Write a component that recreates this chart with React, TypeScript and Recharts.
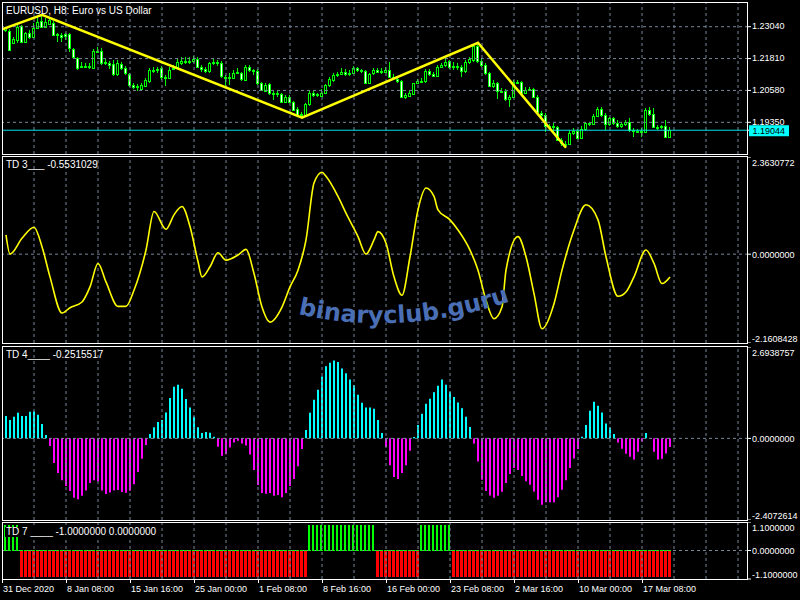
import { ComposedChart, Bar, Line, XAxis, YAxis, ReferenceLine, Cell } from "recharts";

const FONT = "'Liberation Sans', Arial, Helvetica, sans-serif";
const GRID = "#778899";
const LIME = "#00ff00";

// EURUSD H8 candles, bar 0 = 31 Dec 2020
const open = [
  1.2291, 1.2287, 1.2243, 1.2253, 1.2307, 1.2246, 1.2281, 1.2266, 1.2298, 1.2327,
  1.2304, 1.2314, 1.2320, 1.2272, 1.2272, 1.2275, 1.2276, 1.2217, 1.2182, 1.2150,
  1.2153, 1.2153, 1.2144, 1.2212, 1.2212, 1.2163, 1.2165, 1.2160, 1.2122, 1.2160,
  1.2146, 1.2122, 1.2079, 1.2075, 1.2063, 1.2075, 1.2096, 1.2137, 1.2135, 1.2144,
  1.2109, 1.2105, 1.2140, 1.2150, 1.2163, 1.2173, 1.2171, 1.2173, 1.2181, 1.2147,
  1.2140, 1.2132, 1.2163, 1.2167, 1.2165, 1.2111, 1.2109, 1.2106, 1.2127, 1.2124,
  1.2099, 1.2147, 1.2135, 1.2133, 1.2086, 1.2057, 1.2082, 1.2047, 1.2045, 1.2043,
  1.2015, 1.2034, 1.2015, 1.1986, 1.1964, 1.1964, 1.2005, 1.2050, 1.2041, 1.2037,
  1.2050, 1.2078, 1.2099, 1.2118, 1.2122, 1.2129, 1.2122, 1.2127, 1.2144, 1.2137,
  1.2133, 1.2088, 1.2124, 1.2137, 1.2131, 1.2131, 1.2137, 1.2109, 1.2104, 1.2095,
  1.2034, 1.2038, 1.2045, 1.2086, 1.2095, 1.2093, 1.2133, 1.2122, 1.2114, 1.2150,
  1.2155, 1.2171, 1.2150, 1.2153, 1.2147, 1.2132, 1.2168, 1.2176, 1.2230, 1.2173,
  1.2156, 1.2124, 1.2075, 1.2086, 1.2054, 1.2056, 1.2024, 1.2032, 1.2090, 1.2090,
  1.2050, 1.2060, 1.2063, 1.2034, 1.1970, 1.1964, 1.1919, 1.1919, 1.1915, 1.1867,
  1.1852, 1.1851, 1.1893, 1.1902, 1.1874, 1.1908, 1.1929, 1.1929, 1.1960, 1.1988,
  1.1964, 1.1929, 1.1950, 1.1932, 1.1921, 1.1929, 1.1937, 1.1906, 1.1902, 1.1901,
  1.1899, 1.1983, 1.1968, 1.1916, 1.1915, 1.1919, 1.1880,
];
const high = [
  1.2304, 1.2294, 1.2263, 1.2311, 1.2311, 1.2285, 1.2291, 1.2317, 1.2343, 1.2350,
  1.2336, 1.2336, 1.2327, 1.2281, 1.2278, 1.2281, 1.2281, 1.2221, 1.2186, 1.2169,
  1.2163, 1.2165, 1.2217, 1.2225, 1.2221, 1.2178, 1.2173, 1.2176, 1.2176, 1.2169,
  1.2153, 1.2127, 1.2086, 1.2083, 1.2086, 1.2105, 1.2144, 1.2150, 1.2150, 1.2153,
  1.2118, 1.2150, 1.2156, 1.2178, 1.2189, 1.2189, 1.2186, 1.2191, 1.2189, 1.2155,
  1.2150, 1.2169, 1.2178, 1.2176, 1.2173, 1.2118, 1.2124, 1.2137, 1.2144, 1.2131,
  1.2156, 1.2156, 1.2140, 1.2140, 1.2092, 1.2086, 1.2086, 1.2054, 1.2054, 1.2047,
  1.2041, 1.2039, 1.2019, 1.1993, 1.1973, 1.2011, 1.2054, 1.2057, 1.2050, 1.2063,
  1.2083, 1.2109, 1.2124, 1.2131, 1.2144, 1.2140, 1.2135, 1.2153, 1.2150, 1.2140,
  1.2137, 1.2127, 1.2144, 1.2146, 1.2144, 1.2150, 1.2169, 1.2122, 1.2114, 1.2099,
  1.2047, 1.2054, 1.2088, 1.2101, 1.2105, 1.2140, 1.2140, 1.2131, 1.2156, 1.2165,
  1.2182, 1.2176, 1.2169, 1.2163, 1.2156, 1.2176, 1.2186, 1.2234, 1.2242, 1.2182,
  1.2163, 1.2131, 1.2099, 1.2092, 1.2066, 1.2063, 1.2041, 1.2099, 1.2099, 1.2095,
  1.2070, 1.2070, 1.2066, 1.2041, 1.1977, 1.1970, 1.1929, 1.1934, 1.1919, 1.1874,
  1.1861, 1.1906, 1.1912, 1.1908, 1.1919, 1.1938, 1.1938, 1.1968, 1.1993, 1.1993,
  1.1970, 1.1957, 1.1955, 1.1942, 1.1938, 1.1942, 1.1951, 1.1912, 1.1908, 1.1912,
  1.1989, 1.1993, 1.1989, 1.1925, 1.1925, 1.1942, 1.1916,
];
const low = [
  1.2285, 1.2212, 1.2236, 1.2243, 1.2243, 1.2240, 1.2255, 1.2259, 1.2294, 1.2298,
  1.2298, 1.2311, 1.2268, 1.2246, 1.2246, 1.2253, 1.2208, 1.2178, 1.2137, 1.2144,
  1.2144, 1.2140, 1.2140, 1.2201, 1.2156, 1.2155, 1.2140, 1.2114, 1.2114, 1.2135,
  1.2118, 1.2070, 1.2063, 1.2054, 1.2057, 1.2070, 1.2088, 1.2127, 1.2127, 1.2099,
  1.2075, 1.2101, 1.2135, 1.2144, 1.2156, 1.2160, 1.2160, 1.2165, 1.2144, 1.2131,
  1.2127, 1.2127, 1.2156, 1.2153, 1.2105, 1.2070, 1.2079, 1.2101, 1.2122, 1.2096,
  1.2096, 1.2131, 1.2118, 1.2079, 1.2054, 1.2054, 1.2041, 1.2021, 1.2034, 1.2011,
  1.2011, 1.2011, 1.1977, 1.1960, 1.1953, 1.1957, 1.1998, 1.2034, 1.2034, 1.2032,
  1.2045, 1.2070, 1.2092, 1.2111, 1.2118, 1.2114, 1.2114, 1.2122, 1.2131, 1.2127,
  1.2086, 1.2086, 1.2118, 1.2124, 1.2122, 1.2124, 1.2105, 1.2099, 1.2088, 1.2032,
  1.2024, 1.2032, 1.2041, 1.2083, 1.2086, 1.2088, 1.2114, 1.2109, 1.2111, 1.2144,
  1.2150, 1.2140, 1.2137, 1.2137, 1.2109, 1.2127, 1.2160, 1.2169, 1.2165, 1.2150,
  1.2118, 1.2070, 1.2066, 1.2024, 1.2047, 1.2019, 1.1993, 1.2028, 1.2083, 1.2045,
  1.2045, 1.2054, 1.2028, 1.1964, 1.1955, 1.1899, 1.1906, 1.1899, 1.1861, 1.1844,
  1.1837, 1.1848, 1.1887, 1.1870, 1.1870, 1.1903, 1.1919, 1.1925, 1.1955, 1.1957,
  1.1906, 1.1921, 1.1925, 1.1912, 1.1912, 1.1921, 1.1899, 1.1880, 1.1893, 1.1880,
  1.1896, 1.1960, 1.1912, 1.1906, 1.1908, 1.1878, 1.1874,
];
const close = [
  1.2298, 1.2214, 1.2257, 1.2304, 1.2246, 1.2281, 1.2266, 1.2298, 1.2323, 1.2302,
  1.2323, 1.2330, 1.2272, 1.2276, 1.2266, 1.2268, 1.2221, 1.2186, 1.2146, 1.2153,
  1.2154, 1.2150, 1.2212, 1.2208, 1.2163, 1.2168, 1.2156, 1.2122, 1.2163, 1.2144,
  1.2124, 1.2079, 1.2073, 1.2070, 1.2078, 1.2099, 1.2137, 1.2135, 1.2140, 1.2109,
  1.2106, 1.2137, 1.2145, 1.2168, 1.2173, 1.2169, 1.2173, 1.2181, 1.2150, 1.2140,
  1.2132, 1.2163, 1.2167, 1.2165, 1.2114, 1.2109, 1.2111, 1.2127, 1.2131, 1.2101,
  1.2147, 1.2137, 1.2132, 1.2086, 1.2060, 1.2079, 1.2047, 1.2045, 1.2047, 1.2015,
  1.2034, 1.2015, 1.1983, 1.1964, 1.1968, 1.2006, 1.2050, 1.2039, 1.2043, 1.2050,
  1.2078, 1.2101, 1.2118, 1.2122, 1.2129, 1.2122, 1.2127, 1.2144, 1.2137, 1.2133,
  1.2088, 1.2122, 1.2137, 1.2131, 1.2132, 1.2137, 1.2109, 1.2106, 1.2095, 1.2034,
  1.2039, 1.2047, 1.2086, 1.2095, 1.2096, 1.2133, 1.2122, 1.2114, 1.2150, 1.2155,
  1.2169, 1.2150, 1.2153, 1.2147, 1.2132, 1.2168, 1.2178, 1.2230, 1.2173, 1.2156,
  1.2124, 1.2075, 1.2086, 1.2054, 1.2057, 1.2024, 1.2032, 1.2090, 1.2092, 1.2050,
  1.2060, 1.2063, 1.2034, 1.1970, 1.1964, 1.1919, 1.1921, 1.1915, 1.1867, 1.1854,
  1.1848, 1.1893, 1.1902, 1.1874, 1.1911, 1.1932, 1.1932, 1.1960, 1.1988, 1.1964,
  1.1929, 1.1950, 1.1932, 1.1921, 1.1929, 1.1937, 1.1906, 1.1902, 1.1899, 1.1903,
  1.1983, 1.1968, 1.1916, 1.1915, 1.1919, 1.1880, 1.19044,
];

// zigzag vertices (bar index, price)
const zzBar = [-1, 9, 74, 118, 140];
const zzPrice = [1.2294, 1.235, 1.1953, 1.2242, 1.1837];
const lastPrice = 1.19044;
const priceTicks = [1.1935, 1.2058, 1.2181, 1.2304];
const priceMin = 1.18127;
const priceMax = 1.23955;

// TD 3 line, read at its turning points
const td3Bar = [
  0, 1, 4, 7, 9, 11, 14, 16, 19, 21, 23, 25, 28, 30, 32, 35, 37, 40, 42, 44,
  46, 48, 49, 51, 53, 55, 58, 60, 62, 64, 66, 69, 71, 73, 75, 77, 79, 80, 83, 85,
  88, 90, 92, 93, 95, 97, 99, 101, 103, 105, 107, 108, 111, 113, 116, 118, 120, 122, 124, 125,
  128, 130, 132, 134, 137, 139, 142, 145, 148, 150, 153, 155, 157, 160, 162, 164, 166,
];
const td3Val = [
  0.467, 0.002, 0.385, 0.654, 0.181, -0.552, -1.432, -1.302, -1.163, -0.797,
  -0.226, -0.674, -1.269, -1.269, -0.878, 0.1, 1.037, 0.605, 0.956, 1.16,
  0.671, -0.18, -0.552, -0.307, 0.035, -0.145, -0.022, 0.116, -0.471, -1.286,
  -1.652, -1.286, -0.797, -0.389, 0.345, 1.73, 1.991, 1.893, 1.404, 0.997,
  0.426, 0.002, 0.345, 0.548, 0.263, -0.552, -1.0, -0.063, 1.078, 1.608,
  1.404, 1.078, 0.834, 0.589, 0.1, -0.389, -1.123, -1.571, -1.286, -0.389,
  0.426, -0.063, -0.96, -1.815, -1.204, -0.389, 0.589, 1.2, 0.834, -0.063,
  -1.025, -0.919, -0.552, 0.1, -0.226, -0.715, -0.5531029,
];
const td3Min = -2.1608428;
const td3Max = 2.3630772;

// TD 4 histogram
const td4 = [
  0.663, 0.545, 0.634, 0.752, 0.663, 0.663, 0.782, 0.792, 0.693, 0.426,
  0.099, -0.228, -0.723, -1.02, -1.238, -1.406, -1.554, -1.752, -1.792, -1.693,
  -1.535, -1.317, -1.238, -1.267, -1.535, -1.644, -1.594, -1.535, -1.525, -1.584,
  -1.604, -1.545, -1.356, -0.99, -0.604, -0.198, 0.129, 0.327, 0.485, 0.545,
  0.762, 1.188, 1.525, 1.584, 1.465, 1.158, 0.911, 0.634, 0.327, 0.158,
  0.188, 0.168, 0.05, -0.248, -0.515, -0.465, -0.267, -0.119, -0.069, -0.149,
  -0.208, -0.475, -0.931, -1.376, -1.614, -1.634, -1.614, -1.693, -1.673, -1.733,
  -1.614, -1.406, -1.198, -0.822, -0.317, 0.248, 0.752, 1.139, 1.436, 1.822,
  2.129, 2.228, 2.297, 2.248, 2.059, 1.921, 1.733, 1.564, 1.287, 1.05,
  0.911, 0.911, 0.871, 0.545, 0.158, -0.257, -0.792, -1.139, -1.198, -1.02,
  -0.792, -0.366, 0.04, 0.396, 0.723, 1.02, 1.168, 1.356, 1.554, 1.733,
  1.584, 1.376, 1.218, 1.059, 0.891, 0.634, 0.337, -0.149, -0.683, -1.218,
  -1.554, -1.683, -1.752, -1.693, -1.574, -1.317, -1.05, -0.871, -0.931, -1.109,
  -1.267, -1.366, -1.564, -1.812, -1.96, -1.881, -1.881, -1.881, -1.733, -1.515,
  -1.238, -0.871, -0.594, -0.317, 0.05, 0.396, 0.812, 1.079, 0.96, 0.762,
  0.436, 0.317, 0.129, -0.119, -0.307, -0.455, -0.545, -0.624, -0.396, -0.089,
  0.158, -0.02, -0.396, -0.624, -0.604, -0.446, -0.2515517,
];
const td4Min = -2.4072614;
const td4Max = 2.6938757;

// TD 7: runs of (bar count, value)
const td7Runs: [number, number][] = [[4, 1], [72, -1], [17, 1], [11, -1], [8, 1], [55, -1]];

const gridBars = [7, 15, 23, 31, 39, 47, 55, 63, 71, 79, 87, 95, 103, 111, 119, 127, 135, 143, 151, 159, 167, 175, 183];
const timeBars = [-1, 15, 31, 47, 63, 79, 95, 111, 127, 143, 159];
const timeLabels = [
  "31 Dec 2020", "8 Jan 08:00", "15 Jan 16:00", "25 Jan 00:00", "1 Feb 08:00", "8 Feb 16:00",
  "16 Feb 00:00", "23 Feb 08:00", "2 Mar 16:00", "10 Mar 00:00", "17 Mar 08:00",
];

const X_DOMAIN: [number, number] = [-1, 185.5];

const td7: number[] = [];
td7Runs.forEach(([n, v]) => {
  for (let k = 0; k < n; k++) td7.push(v);
});

const rows = open.map((o, i) => ({
  i,
  o,
  h: high[i],
  l: low[i],
  c: close[i],
  hl: [low[i], high[i]],
  td4: td4[i],
  td7: td7[i],
}));

const priceRows: any[] = [{ i: -1 }, ...rows].map((r) => {
  const k = zzBar.indexOf(r.i);
  return k >= 0 ? { ...r, zz: zzPrice[k] } : r;
});

const td3Rows = rows.map((r) => {
  const k = td3Bar.indexOf(r.i);
  return { i: r.i, td3: k >= 0 ? td3Val[k] : null };
});

function Candle(props: any) {
  const { x, y, width, height, payload } = props;
  if (!payload || payload.h === undefined) return null;
  const top = Math.min(y, y + height);
  const span = Math.abs(height);
  const k = payload.h === payload.l ? 0 : span / (payload.h - payload.l);
  const yo = top + (payload.h - payload.o) * k;
  const yc = top + (payload.h - payload.c) * k;
  const cx = Math.floor(x + width / 2) + 0.5;
  const bTop = Math.round(Math.min(yo, yc)) + 0.5;
  const bBot = Math.max(Math.round(Math.max(yo, yc)) + 0.5, bTop + 1);
  const bear = payload.c < payload.o;
  return (
    <g shapeRendering="crispEdges">
      <line x1={cx} x2={cx} y1={Math.round(top)} y2={Math.round(top + span)} stroke={LIME} />
      <rect x={cx - 1} y={bTop} width={2} height={bBot - bTop} fill={bear ? "#ffffff" : "#000000"} stroke={LIME} />
    </g>
  );
}

// crisp TD 7 bars: up bars 2px green, down bars 3px red
function TdBar(props: any) {
  const { x, y, width, height, payload } = props;
  if (!payload || !height) return null;
  const up = payload.td7 > 0;
  const left = Math.floor(x + width / 2 - 1);
  return (
    <rect
      x={left}
      y={Math.round(Math.min(y, y + height))}
      width={up ? 2 : 3}
      height={Math.round(Math.abs(height))}
      fill={up ? "#00ff00" : "#ff0000"}
      shapeRendering="crispEdges"
    />
  );
}

function PriceTick(props: any) {
  const { x, y, payload } = props;
  const v = payload.value;
  if (v === lastPrice) {
    return (
      <g>
        <rect x={x - 3} y={y - 5} width={40} height={11} fill="#00ffff" />
        <text x={x + 0.5} y={y + 4} fill="#000" fontSize={9} fontFamily={FONT}>
          {v.toFixed(5)}
        </text>
      </g>
    );
  }
  return (
    <text x={x} y={y + 2.5} fill="#fff" fontSize={9} fontFamily={FONT}>
      {v.toFixed(5)}
    </text>
  );
}

const makeIndTick = (lo: number, hi: number) => (props: any) => {
  const { x, y, payload } = props;
  const v = payload.value;
  const dy = v === hi ? 8.5 : v === lo ? -1.5 : 3.5;
  return (
    <text x={x} y={y + dy} fill="#fff" fontSize={9} fontFamily={FONT}>
      {v.toFixed(7)}
    </text>
  );
};

function TimeTick(props: any) {
  const { x, y, payload } = props;
  const k = timeBars.indexOf(payload.value);
  if (k < 0) return null;
  return (
    <g>
      <line x1={Math.round(x) + 0.5} x2={Math.round(x) + 0.5} y1={y} y2={y + 4} stroke="#fff" />
      <text x={x + 1} y={y + 13} fill="#fff" fontSize={9} fontFamily={FONT}>
        {timeLabels[k]}
      </text>
    </g>
  );
}

const vGrid = gridBars.map((b) => (
  <ReferenceLine key={"g" + b} x={b} stroke={GRID} strokeDasharray="3 3" ifOverflow="hidden" />
));

const axisProps = {
  orientation: "right" as const,
  width: 52,
  axisLine: false,
  tickLine: { stroke: "#fff" },
  tickSize: 3,
  tickMargin: 1,
  allowDataOverflow: true,
  interval: 0 as const,
};

const MARGIN = { top: 0, right: 0, bottom: 0, left: 2 };

export default function App() {
  return (
    <div
      style={{
        position: "fixed",
        left: 0,
        top: 0,
        width: 800,
        height: 600,
        background: "#000",
        overflow: "hidden",
      }}
    >
      {/* price pane */}
      <div style={{ position: "absolute", left: 0, top: 3 }}>
        <ComposedChart width={800} height={151} data={priceRows} margin={MARGIN}>
          <XAxis dataKey="i" type="number" domain={X_DOMAIN} allowDataOverflow hide />
          <YAxis {...axisProps} domain={[priceMin, priceMax]} ticks={[...priceTicks, lastPrice]} tick={<PriceTick />} />
          {vGrid}
          {priceTicks.map((p) => (
            <ReferenceLine key={"p" + p} y={p} stroke={GRID} strokeDasharray="3 3" />
          ))}
          <ReferenceLine y={lastPrice} stroke="#00e0e8" />
          <Bar dataKey="hl" barSize={3} shape={<Candle />} isAnimationActive={false} />
          <Line
            dataKey="zz"
            type="linear"
            connectNulls
            stroke="#ffff00"
            strokeWidth={2.5}
            dot={false}
            isAnimationActive={false}
          />
        </ComposedChart>
      </div>

      {/* TD 3 */}
      <div style={{ position: "absolute", left: 0, top: 157 }}>
        <ComposedChart width={800} height={186} data={td3Rows} margin={MARGIN}>
          <XAxis dataKey="i" type="number" domain={X_DOMAIN} allowDataOverflow hide />
          <YAxis {...axisProps} domain={[td3Min, td3Max]} ticks={[td3Min, 0, td3Max]} tick={makeIndTick(td3Min, td3Max)} />
          {vGrid}
          <ReferenceLine y={0} stroke={GRID} strokeDasharray="3 3" />
          <Line
            dataKey="td3"
            type="monotone"
            connectNulls
            stroke="#ffff00"
            strokeWidth={1.6}
            dot={false}
            isAnimationActive={false}
          />
        </ComposedChart>
      </div>

      {/* TD 4 */}
      <div style={{ position: "absolute", left: 0, top: 347 }}>
        <ComposedChart width={800} height={173} data={rows} margin={MARGIN}>
          <XAxis dataKey="i" type="number" domain={X_DOMAIN} allowDataOverflow hide />
          <YAxis {...axisProps} domain={[td4Min, td4Max]} ticks={[td4Min, 0, td4Max]} tick={makeIndTick(td4Min, td4Max)} />
          {vGrid}
          <Bar dataKey="td4" barSize={2} isAnimationActive={false}>
            {rows.map((r) => (
              <Cell key={r.i} fill={r.td4 >= 0 ? "#00ffff" : "#ff00ff"} />
            ))}
          </Bar>
          <ReferenceLine y={0} stroke={GRID} strokeDasharray="3 3" />
        </ComposedChart>
      </div>

      {/* TD 7 */}
      <div style={{ position: "absolute", left: 0, top: 522 }}>
        <ComposedChart width={800} height={78} data={rows} margin={MARGIN}>
          <XAxis
            dataKey="i"
            type="number"
            domain={X_DOMAIN}
            allowDataOverflow
            ticks={timeBars}
            interval={0}
            tick={<TimeTick />}
            tickLine={false}
            axisLine={false}
            tickSize={0}
            tickMargin={0}
            height={21}
          />
          <YAxis {...axisProps} domain={[-1.1, 1.1]} ticks={[-1.1, 0, 1.1]} tick={makeIndTick(-1.1, 1.1)} />
          {vGrid}
          <Bar dataKey="td7" barSize={3} shape={<TdBar />} isAnimationActive={false} />
          <ReferenceLine y={0} stroke={GRID} strokeDasharray="3 3" />
          <ReferenceLine
            segment={[{ x: -0.5, y: 0 }, { x: rows.length - 0.5, y: 0 }]}
            stroke="#00ff00"
            strokeDasharray="3 1"
          />
        </ComposedChart>
      </div>

      {/* frames, titles, watermark */}
      <svg
        width={800}
        height={600}
        style={{ position: "absolute", left: 0, top: 0, pointerEvents: "none" }}
      >
        <g fill="none" stroke="#fff" shapeRendering="crispEdges">
          <rect x={2.5} y={2.5} width={745} height={152} />
          <rect x={2.5} y={156.5} width={745} height={187} />
          <rect x={2.5} y={346.5} width={745} height={174} />
          <rect x={2.5} y={522.5} width={745} height={57} />
        </g>
        <rect x={5} y={527} width={139} height={10} fill="#000" />
        <g fill="#fff" fontFamily={FONT} fontSize={10} style={{ whiteSpace: "pre" }}>
          <text x={6} y={14}>EURUSD, H8:  Euro vs US Dollar</text>
          <text x={6} y={168}>TD 3___  -0.5531029</text>
          <text x={6} y={358}>TD 4____  -0.2515517</text>
          <text x={6} y={535}>TD 7 ____  -1.0000000 0.0000000</text>
        </g>
        <path id="wm" d="M 298 314 Q 402 338 514 300" fill="none" />
        <text fill="#4a6fb5" fontSize={24} fontWeight="bold" fontFamily="'DejaVu Sans', sans-serif">
          <textPath href="#wm">binaryclub.guru</textPath>
        </text>
      </svg>
    </div>
  );
}
